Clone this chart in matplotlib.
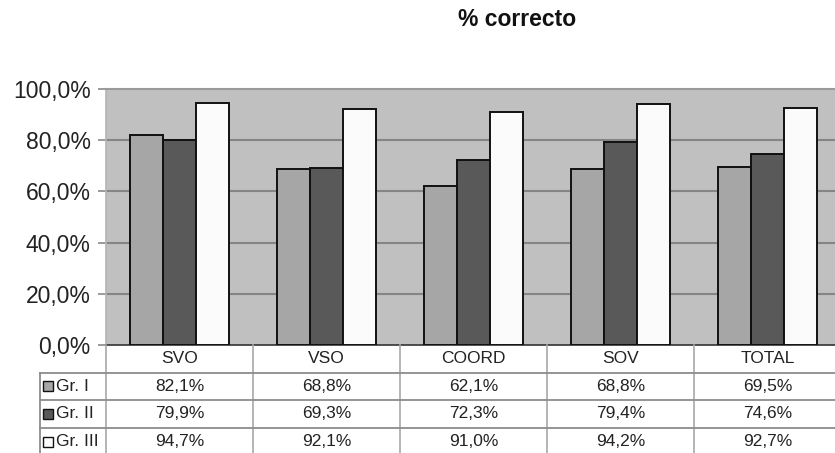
import matplotlib
matplotlib.use("Agg")
import matplotlib.pyplot as plt
import numpy as np
from matplotlib.ticker import FuncFormatter
from matplotlib.transforms import blended_transform_factory
from matplotlib.lines import Line2D
from matplotlib.patches import Rectangle

plt.rcParams['font.family'] = ['Liberation Sans', 'DejaVu Sans']

# Data
categories = ["SVO", "VSO", "COORD", "SOV", "TOTAL"]
groups = ["Gr. I", "Gr. II", "Gr. III"]
gr1 = [82.1, 68.8, 62.1, 68.8, 69.5]
gr2 = [79.9, 69.3, 72.3, 79.4, 74.6]
gr3 = [94.7, 92.1, 91.0, 94.2, 92.7]
series = [gr1, gr2, gr3]
colors = ["#a6a6a6", "#595959", "#fbfbfb"]
yticks = [0, 20, 40, 60, 80, 100]

W, H = 835, 453
fig = plt.figure(figsize=(W / 100, H / 100), dpi=100)

def fy(py):
    return 1 - py / H

# plot area (extends slightly past the right edge, like the original export)
left_px, right_px, top_px, zero_px = 106, 841, 89, 345
ax = fig.add_axes([left_px / W, fy(zero_px), (right_px - left_px) / W, (zero_px - top_px) / H])
ax.set_facecolor("#c0c0c0")
ax.set_xlim(-0.5, len(categories) - 0.5)
ax.set_ylim(0, 100)

x = np.arange(len(categories))
bw = 0.224
for k, (vals, col) in enumerate(zip(series, colors)):
    ax.bar(x + (k - 1) * bw, vals, width=bw, color=col, edgecolor="#111111",
           linewidth=1.4, zorder=3)

for t in yticks[1:-1]:
    ax.axhline(t, color="#858585", linewidth=1.5, zorder=1)

ax.set_yticks(yticks)
ax.yaxis.set_major_formatter(FuncFormatter(lambda v, p: f"{v:.1f}".replace(".", ",") + "%"))
ax.tick_params(axis="y", length=6, width=1.2, color="#8a8a8a", labelsize=16.5,
               labelcolor="#222222", pad=5)
ax.set_xticks([])
ax.spines["right"].set_visible(False)
ax.spines["top"].set_color("#9a9a9a")
ax.spines["top"].set_linewidth(1.5)
ax.spines["left"].set_color("#b5b5b5")
ax.spines["left"].set_linewidth(1.2)
ax.spines["bottom"].set_color("#333333")
ax.spines["bottom"].set_linewidth(1.2)

fig.text(517 / W, fy(20), "% correcto", ha="center", va="center",
         fontsize=16.5, fontweight="bold", color="#111111")

# data table under the plot
tr = blended_transform_factory(ax.transData, fig.transFigure)
row_edges = [345, 372.5, 400, 427.5, 456]
line_col = "#8c8c8c"
label_left = 40 / W

# vertical separators between category columns
for b in np.arange(len(categories) + 1) - 0.5:
    fig.add_artist(Line2D([b, b], [fy(row_edges[0]), fy(row_edges[-1])],
                          transform=tr, color="#a8a8a8", linewidth=1.2))
# horizontal row lines, spanning the label column too
for e in row_edges[1:-1]:
    fig.add_artist(Line2D([label_left, 1.0], [fy(e), fy(e)],
                          transform=fig.transFigure, color=line_col, linewidth=1.3))
fig.add_artist(Line2D([label_left, label_left], [fy(row_edges[1]), fy(row_edges[-1])],
                      transform=fig.transFigure, color=line_col, linewidth=1.3))

def ymid(i):
    return fy((row_edges[i] + row_edges[i + 1]) / 2)

for i, c in enumerate(categories):
    fig.text(x[i], ymid(0), c, transform=tr, ha="center", va="center",
             fontsize=12.5, color="#222222")
for r, (g, vals, col) in enumerate(zip(groups, series, colors)):
    yc = ymid(r + 1)
    sw = 10
    fig.add_artist(Rectangle((43 / W, yc - sw / 2 / H), sw / W, sw / H,
                             transform=fig.transFigure, facecolor=col,
                             edgecolor="#111111", linewidth=1.0))
    fig.text(56 / W, yc, g, ha="left", va="center", fontsize=12.5, color="#222222")
    for i, v in enumerate(vals):
        fig.text(x[i], yc, f"{v:.1f}".replace(".", ",") + "%", transform=tr,
                 ha="center", va="center", fontsize=12.5, color="#222222")

fig.savefig("out.png", dpi=100)
